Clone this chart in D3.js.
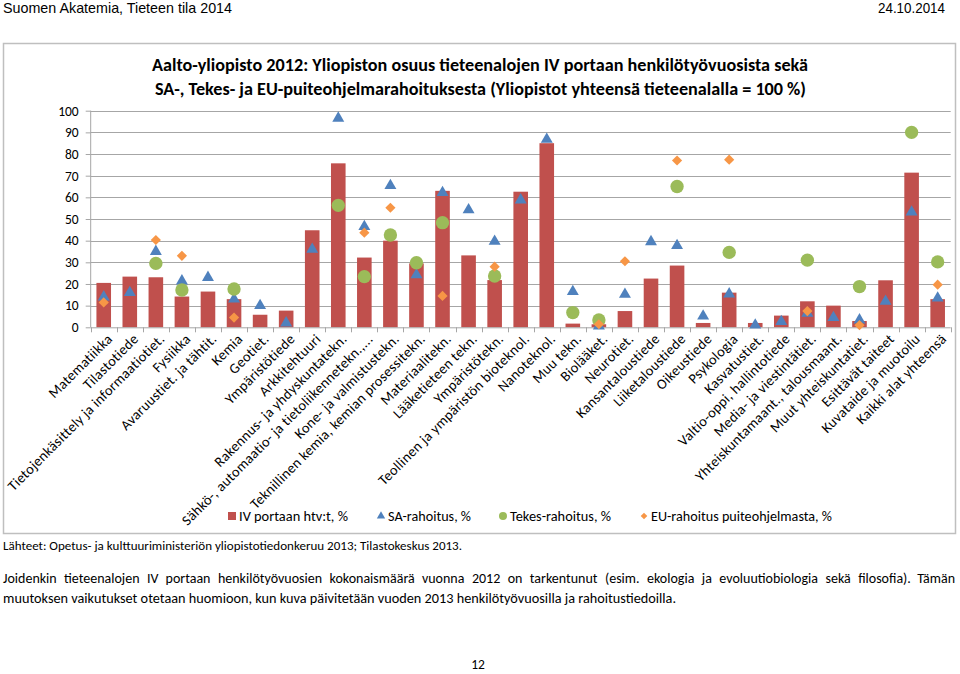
<!DOCTYPE html>
<html><head><meta charset="utf-8">
<script src="https://cdn.jsdelivr.net/npm/d3@7"></script>
<style>
html,body{margin:0;padding:0;background:#fff;}
svg{display:block;}
</style></head>
<body>
<svg id="c" width="960" height="674"></svg>
<script>
const categories = ["Matematiikka","Tilastotiede","Tietojenkäsittely ja informaatiotiet.","Fysiikka","Avaruustiet. ja tähtit.","Kemia","Geotiet.","Ympäristötiede","Arkkitehtuuri","Rakennus- ja yhdyskuntatekn.","Sähkö-, automaatio- ja tietoliikennetekn.,...","Kone- ja valmistustekn.","Teknillinen kemia, kemian prosessitekn.","Materiaalitekn.","Lääketieteen tekn.","Ympäristötekn.","Teollinen ja ympäristön bioteknol.","Nanoteknol.","Muu tekn.","Biolääket.","Neurotiet.","Kansantaloustiede","Liiketaloustiede","Oikeustiede","Psykologia","Kasvatustiet.","Valtio-oppi, hallintotiede","Media- ja viestintätiet.","Yhteiskuntamaant., talousmaant.","Muut yhteiskuntatiet.","Esittävät taiteet","Kuvataide ja muotoilu","Kaikki alat yhteensä"];
const ivHtv = [20.5,23.4,23.1,14.2,16.5,13,5.8,7.7,44.8,75.7,32.2,40,29.5,63,33.2,21.8,62.6,85,1.7,1.4,7.5,22.5,28.5,2,16,2,5.4,12,10,2.9,21.7,71.4,13];
const saRahoitus = [14,16,35,21.4,23,13,10,2,36,96.5,46.5,65.4,24.2,62.2,54.2,39.7,58.8,86.8,16.5,0.6,15.2,39.5,37.7,5.2,15.4,1,2.6,6.5,4.5,3.4,12,53.2,13.5];
const tekesRahoitus = [null,null,29.5,17.2,null,17.7,null,null,null,56.3,23.4,42.6,29.8,48.3,null,23.7,null,null,6.8,3.4,null,null,65,null,34.6,null,null,31,null,18.8,null,90,30.2];
const euRahoitus = [11.5,null,40.3,33,null,4.5,null,null,null,null,43.7,55.2,null,14.5,null,28,null,null,null,1.4,30.5,null,77,null,77.4,null,null,7.5,null,1,null,null,19.7];
const yTicks = [0,10,20,30,40,50,60,70,80,90,100];
const seriesNames = ["IV portaan htv:t, %","SA-rahoitus, %","Tekes-rahoitus, %","EU-rahoitus puiteohjelmasta, %"];
const titleLines = ["Aalto-yliopisto 2012: Yliopiston osuus tieteenalojen IV portaan henkilötyövuosista sekä","SA-, Tekes- ja EU-puiteohjelmarahoituksesta (Yliopistot yhteensä tieteenalalla = 100 %)"];

const FONT = "Carlito, Lato, 'Open Sans', sans-serif";
const NARROW = "'Liberation Sans Narrow', 'Arial Narrow', sans-serif";
const C = {bar:"#C0504D", sa:"#4F81BD", tekes:"#9BBB59", eu:"#F79646", grid:"#A6A6A6"};

const svg = d3.select("#c");

// header
svg.append("text").attr("x",3).attr("y",13).attr("font-family",NARROW).attr("font-size",15)
  .attr("textLength",229).attr("lengthAdjust","spacingAndGlyphs").text("Suomen Akatemia, Tieteen tila 2014");
svg.append("text").attr("x",945).attr("y",13).attr("text-anchor","end").attr("font-family",NARROW).attr("font-size",15)
  .attr("textLength",67).attr("lengthAdjust","spacingAndGlyphs").text("24.10.2014");

// frame
svg.append("rect").attr("x",3.5).attr("y",43.5).attr("width",952).attr("height",490)
  .attr("fill","#fff").attr("stroke","#BFBFBF").attr("stroke-width",1.5);

// title
svg.append("text").attr("x",152).attr("y",71).attr("font-family",FONT).attr("font-weight","bold").attr("font-size",17.5)
  .attr("textLength",656).attr("lengthAdjust","spacingAndGlyphs").text(titleLines[0]);
svg.append("text").attr("x",155).attr("y",95).attr("font-family",FONT).attr("font-weight","bold").attr("font-size",17.5)
  .attr("textLength",651).attr("lengthAdjust","spacingAndGlyphs").text(titleLines[1]);

const x = d3.scaleBand().domain(categories).range([90.7,950.7]).paddingInner(0.44).paddingOuter(0.22);
const band = d3.scaleBand().domain(categories).range([90.7,950.7]);
const y = d3.scaleLinear().domain([0,100]).range([327.3,110.7]);

// grid + y axis
const yAxis = d3.axisLeft(y).tickValues(yTicks).tickSize(5).tickFormat(d3.format("d"));
const gy = svg.append("g").attr("transform","translate(90.7,0)").call(yAxis);
gy.select(".domain").attr("stroke",C.grid).attr("d","M0,110.7V327.3");
gy.selectAll(".tick line").attr("stroke",C.grid);
gy.selectAll(".tick text").attr("font-family",FONT).attr("font-size",13.5).attr("fill","#000").attr("x",-12);
svg.append("g").selectAll("line").data(yTicks.filter(d=>d>0)).join("line")
  .attr("x1",90.7).attr("x2",950.7).attr("y1",d=>Math.round(y(d))+0.5).attr("y2",d=>Math.round(y(d))+0.5)
  .attr("stroke",C.grid).attr("stroke-width",1);

// bars
const idx = d3.range(categories.length);
svg.append("g").selectAll("rect").data(idx).join("rect")
  .attr("x",i=>x(categories[i])).attr("width",x.bandwidth())
  .attr("y",i=>y(ivHtv[i])).attr("height",i=>y(0)-y(ivHtv[i])).attr("fill",C.bar);

// x axis
const xAxis = d3.axisBottom(band).tickSize(0).tickFormat("");
const gx = svg.append("g").attr("transform",`translate(0,${y(0)})`).call(xAxis);
gx.select(".domain").attr("stroke",C.grid).attr("d","M90.7,0.5H950.7");
gx.selectAll(".tick").remove();
svg.append("g").selectAll("line").data(d3.range(categories.length+1)).join("line")
  .attr("x1",i=>Math.round(90.7+i*band.step())+0.5).attr("x2",i=>Math.round(90.7+i*band.step())+0.5)
  .attr("y1",y(0)).attr("y2",y(0)+5).attr("stroke",C.grid);

// x labels
svg.append("g").selectAll("text").data(idx).join("text")
  .attr("transform",i=>`translate(${band(categories[i])+band.bandwidth()/2+6},${y(0)+9}) rotate(-45)`)
  .attr("text-anchor","end").attr("dy","0.35em")
  .attr("font-family",FONT).attr("font-size",14.3).attr("letter-spacing","0.3px").attr("fill","#000")
  .text(i=>categories[i]);

// markers
const cx = i=>band(categories[i])+band.bandwidth()/2;
const tri = d3.symbol().type(d3.symbolTriangle).size(62);
const circ = d3.symbol().type(d3.symbolCircle).size(140);
const dia = d3.symbol().type(d3.symbolSquare).size(52);
svg.append("g").selectAll("path").data(idx.filter(i=>saRahoitus[i]!=null)).join("path")
  .attr("d",tri).attr("fill",C.sa).attr("transform",i=>`translate(${cx(i)},${y(saRahoitus[i])})`);
svg.append("g").selectAll("path").data(idx.filter(i=>tekesRahoitus[i]!=null)).join("path")
  .attr("d",circ).attr("fill",C.tekes).attr("transform",i=>`translate(${cx(i)},${y(tekesRahoitus[i])})`);
svg.append("g").selectAll("path").data(idx.filter(i=>euRahoitus[i]!=null)).join("path")
  .attr("d",dia).attr("fill",C.eu).attr("transform",i=>`translate(${cx(i)},${y(euRahoitus[i])}) rotate(45)`);

// legend
const legendX = [228,377,499,640];
const legendW = [109,83,101,181];
const lg = svg.append("g");
seriesNames.forEach((n,k)=>{
  const g = lg.append("g").attr("transform",`translate(${legendX[k]},516)`);
  if(k===0) g.append("rect").attr("x",0).attr("y",-4).attr("width",8).attr("height",8).attr("fill",C.bar);
  if(k===1) g.append("path").attr("d",d3.symbol().type(d3.symbolTriangle).size(30)).attr("transform","translate(4,0)").attr("fill",C.sa);
  if(k===2) g.append("path").attr("d",d3.symbol().type(d3.symbolCircle).size(50)).attr("transform","translate(4,0)").attr("fill",C.tekes);
  if(k===3) g.append("path").attr("d",d3.symbol().type(d3.symbolSquare).size(22)).attr("transform","translate(4,0) rotate(45)").attr("fill",C.eu);
  g.append("text").attr("x",11).attr("y",5).attr("font-family",FONT).attr("font-size",14)
    .attr("textLength",legendW[k]).attr("lengthAdjust","spacingAndGlyphs").text(n);
});

// source
svg.append("text").attr("x",3).attr("y",550).attr("font-family",FONT).attr("font-size",13)
  .attr("textLength",459).attr("lengthAdjust","spacingAndGlyphs")
  .text("Lähteet: Opetus- ja kulttuuriministeriön yliopistotiedonkeruu 2013; Tilastokeskus 2013.");

// paragraph (justified first line)
function justify(str,x0,x1,yy){
  const words = str.split(" ");
  const t = svg.append("text").attr("y",yy).attr("font-family",FONT).attr("font-size",14);
  const sp = words.map(w=>t.append("tspan").text(w));
  const widths = sp.map(s=>s.node().getComputedTextLength());
  const total = d3.sum(widths);
  const gap = (x1-x0-total)/(words.length-1);
  let cur = x0;
  sp.forEach((s,k)=>{ s.attr("x",cur); cur += widths[k]+gap; });
}
justify("Joidenkin tieteenalojen IV portaan henkilötyövuosien kokonaismäärä vuonna 2012 on tarkentunut (esim. ekologia ja evoluutiobiologia sekä filosofia). Tämän",3,955,583);
svg.append("text").attr("x",3).attr("y",603).attr("font-family",FONT).attr("font-size",14)
  .attr("textLength",673).attr("lengthAdjust","spacingAndGlyphs")
  .text("muutoksen vaikutukset otetaan huomioon, kun kuva päivitetään vuoden 2013 henkilötyövuosilla ja rahoitustiedoilla.");

svg.append("text").attr("x",478).attr("y",669).attr("text-anchor","middle").attr("font-family",FONT).attr("font-size",13.5).text("12");
</script>
</body></html>
